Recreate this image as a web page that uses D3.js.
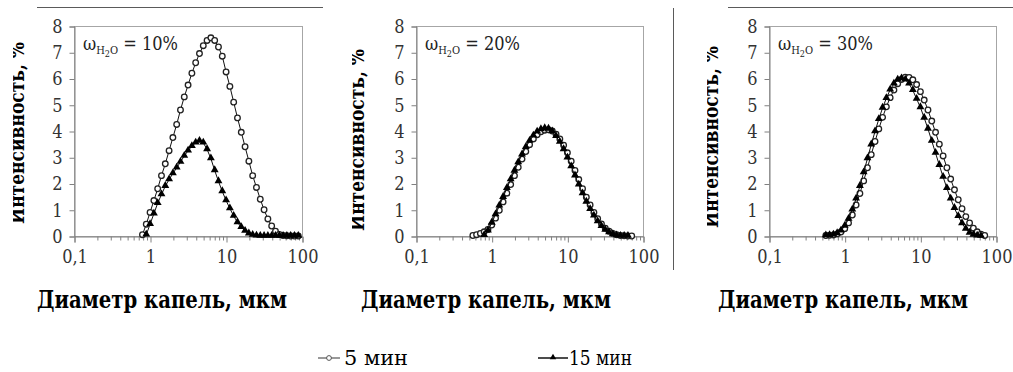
<!DOCTYPE html>
<html>
<head>
<meta charset="utf-8">
<script src="https://cdn.jsdelivr.net/npm/d3@7"></script>
<style>
  html, body { margin: 0; padding: 0; background: #fff; }
  svg { display: block; }
</style>
</head>
<body>
<svg id="chart" width="1013" height="372"></svg>
<script>
// Droplet size classes, µm (shared by every series; null = no point at that class)
const sizeClasses = [0.564, 0.632, 0.710, 0.796, 0.893, 1.002, 1.125, 1.262, 1.416, 1.589,
  1.783, 2.000, 2.244, 2.518, 2.825, 3.170, 3.557, 3.991, 4.477, 5.024,
  5.637, 6.325, 7.096, 7.962, 8.934, 10.024, 11.247, 12.619, 14.159, 15.887,
  17.825, 20.000, 22.440, 25.179, 28.251, 31.698, 35.566, 39.905, 44.774, 50.238,
  56.368, 63.246, 70.963, 79.621, 89.337];

// Intensity, %  — water content 10 %
const w10_5min = [null, null, null, 0.05, 0.45, 0.9, 1.35, 1.8, 2.3, 2.75,
  3.25, 3.75, 4.25, 4.8, 5.3, 5.75, 6.2, 6.6, 6.95, 7.25,
  7.45, 7.55, 7.45, 7.2, 6.85, 6.25, 5.7, 5.1, 4.5, 3.95,
  3.4, 2.85, 2.3, 1.85, 1.4, 1.0, 0.65, 0.38, 0.18, 0.06,
  0.02, 0.01, 0, 0, 0];
const w10_15min = [null, null, null, null, 0.05, 0.45, 0.85, 1.25, 1.58, 1.9,
  2.15, 2.38, 2.6, 2.82, 3.05, 3.25, 3.42, 3.55, 3.62, 3.55,
  3.3, 2.95, 2.5, 2.08, 1.7, 1.35, 1.05, 0.76, 0.52, 0.33,
  0.19, 0.09, 0.04, 0.01, 0, 0, 0, 0, 0, 0,
  0, 0, 0, 0, 0];

// water content 20 %
const w20_5min = [0.02, 0.05, 0.1, 0.16, 0.25, 0.42, 0.68, 0.98, 1.3, 1.63,
  1.96, 2.3, 2.62, 2.93, 3.22, 3.48, 3.7, 3.86, 3.97, 4.03,
  4.05, 4.0, 3.88, 3.7, 3.46, 3.17, 2.85, 2.5, 2.15, 1.8,
  1.48, 1.18, 0.9, 0.66, 0.46, 0.3, 0.18, 0.1, 0.05, 0.02,
  0.01, 0, 0, null, null];
const w20_15min = [null, null, null, 0.03, 0.2, 0.5, 0.82, 1.15, 1.48, 1.82,
  2.15, 2.48, 2.8, 3.1, 3.38, 3.62, 3.82, 3.97, 4.06, 4.1,
  4.08, 3.98, 3.8, 3.58, 3.3, 2.98, 2.65, 2.3, 1.95, 1.62,
  1.3, 1.02, 0.77, 0.55, 0.37, 0.23, 0.13, 0.06, 0.02, 0,
  0, 0, null, null, null];

// water content 30 %
const w30_5min = [0.02, 0.03, 0.04, 0.08, 0.15, 0.28, 0.5, 0.8, 1.18, 1.62,
  2.1, 2.6, 3.1, 3.6, 4.08, 4.52, 4.92, 5.27, 5.56, 5.8,
  5.96, 6.05, 6.04, 5.95, 5.77, 5.5, 5.18, 4.8, 4.38, 3.95,
  3.5, 3.05, 2.6, 2.17, 1.76, 1.38, 1.04, 0.74, 0.5, 0.3,
  0.16, 0.07, 0.02, null, null];
const w30_15min = [0.02, 0.03, 0.05, 0.1, 0.2, 0.38, 0.65, 1.0, 1.42, 1.9,
  2.42, 2.95, 3.48, 3.98, 4.45, 4.88, 5.25, 5.57, 5.8, 5.95,
  6.0, 5.95, 5.8, 5.55, 5.22, 4.9, 4.5, 4.08, 3.62, 3.16,
  2.7, 2.25, 1.82, 1.42, 1.06, 0.75, 0.48, 0.27, 0.12, 0.04,
  0.01, 0, null, null, null];

const waterLabels = ["10%", "20%", "30%"];
const seriesNames = ["5 мин", "15 мин"];
const xMajorTicks = [0.1, 1, 10, 100];
const xTickLabels = ["0,1", "1", "10", "100"];
const yTickValues = [0, 1, 2, 3, 4, 5, 6, 7, 8];
const xTitle = "Диаметр капель, мкм";
const yTitle = "Интенсивность, %";

const panelData = [
  [w10_5min, w10_15min],
  [w20_5min, w20_15min],
  [w30_5min, w30_15min]
];

const SERIF = "'DejaVu Serif Condensed', 'DejaVu Serif', serif";

// Layout of the three small charts
const panels = [
  { left: 74,  right: 302, titleX: 162, yLabelX: 24,  yLabelClip: 13,  yLabelY: 133 },
  { left: 416, right: 643, titleX: 486, yLabelX: 364, yLabelClip: 352, yLabelY: 140 },
  { left: 769, right: 996, titleX: 843, yLabelX: 718, yLabelClip: 707, yLabelY: 137 }
];
const plotTop = 26, plotBottom = 236;

const svg = d3.select("#chart");
const defs = svg.append("defs");

// Separator rules around the panels
svg.append("line").attr("x1", 37).attr("x2", 323).attr("y1", 7.5).attr("y2", 7.5)
  .attr("stroke", "#5a5a5a").attr("stroke-width", 1);
svg.append("line").attr("x1", 728).attr("x2", 1013).attr("y1", 7.5).attr("y2", 7.5)
  .attr("stroke", "#5a5a5a").attr("stroke-width", 1);
svg.append("line").attr("x1", 673.5).attr("x2", 673.5).attr("y1", 8).attr("y2", 270)
  .attr("stroke", "#5a5a5a").attr("stroke-width", 1);

const tri = d3.symbol().type(d3.symbolTriangle).size(27);

panels.forEach((p, i) => {
  const x = d3.scaleLog().domain([0.1, 100]).range([p.left, p.right]);
  const y = d3.scaleLinear().domain([0, 8]).range([plotBottom, plotTop]);
  const g = svg.append("g");

  // plot frame
  g.append("rect")
    .attr("x", p.left + 0.5).attr("y", plotTop + 0.5)
    .attr("width", p.right - p.left).attr("height", plotBottom - plotTop)
    .attr("fill", "none").attr("stroke", "#a6a6a6").attr("stroke-width", 1);

  // minor log ticks
  const minor = x.ticks().filter(v => !xMajorTicks.some(m => Math.abs(m - v) < 1e-9));
  g.append("g")
    .attr("transform", `translate(0.5,${plotBottom + 0.5})`)
    .call(d3.axisBottom(x).tickValues(minor).tickSize(4).tickFormat(""))
    .call(a => a.select(".domain").remove())
    .call(a => a.selectAll("line").attr("stroke", "#808080"));

  // major x axis
  g.append("g")
    .attr("transform", `translate(0.5,${plotBottom + 0.5})`)
    .call(d3.axisBottom(x).tickValues(xMajorTicks).tickSize(6).tickPadding(8)
      .tickFormat((d, k) => xTickLabels[k]))
    .call(a => a.select(".domain").attr("stroke", "#808080"))
    .call(a => a.selectAll("line").attr("stroke", "#808080"))
    .call(a => a.selectAll("text").attr("fill", "#333")
      .style("font-family", SERIF).style("font-size", "18px"));

  // y axis
  g.append("g")
    .attr("transform", `translate(${p.left + 0.5},0.5)`)
    .call(d3.axisLeft(y).tickValues(yTickValues).tickSize(5).tickPadding(7)
      .tickFormat(d3.format("d")))
    .call(a => a.select(".domain").attr("stroke", "#808080"))
    .call(a => a.selectAll("line").attr("stroke", "#808080"))
    .call(a => a.selectAll("text").attr("fill", "#333")
      .style("font-family", SERIF).style("font-size", "18px"));

  // series: 5 min (open circles), 15 min (filled triangles)
  const line = d3.line()
    .x(d => x(d.s)).y(d => y(d.v));

  panelData[i].forEach((vals, k) => {
    const pts = sizeClasses.map((s, j) => ({ s, v: vals[j] })).filter(d => d.v !== null);
    g.append("path").datum(pts)
      .attr("d", line).attr("fill", "none")
      .attr("stroke", "#111").attr("stroke-width", 1);
    if (k === 0) {
      g.selectAll(null).data(pts).join("circle")
        .attr("cx", d => x(d.s)).attr("cy", d => y(d.v)).attr("r", 2.8)
        .attr("fill", "#fff").attr("stroke", "#222").attr("stroke-width", 1.3);
    } else {
      g.selectAll(null).data(pts).join("path")
        .attr("d", tri)
        .attr("transform", d => `translate(${x(d.s)},${y(d.v) - 0.5})`)
        .attr("fill", "#000");
    }
  });

  // ω(H2O) annotation
  const ann = g.append("text")
    .attr("x", p.left + 9).attr("y", 50)
    .style("font-family", SERIF).style("font-size", "18px")
    .attr("fill", "#222");
  ann.append("tspan").text("ω");
  ann.append("tspan").style("font-size", "11px").attr("dy", 4).text("H");
  ann.append("tspan").style("font-size", "9px").attr("dy", 3).text("2");
  ann.append("tspan").style("font-size", "11px").attr("dy", -3).text("O");
  ann.append("tspan").attr("dy", -4).text(" = " + waterLabels[i]);

  // rotated y title, cut off at its left edge
  const clipId = "ylab-clip-" + i;
  defs.append("clipPath").attr("id", clipId)
    .append("rect").attr("x", p.yLabelClip).attr("y", 0)
    .attr("width", p.yLabelX + 8 - p.yLabelClip).attr("height", 300);
  svg.append("g").attr("clip-path", `url(#${clipId})`)
    .append("text")
    .attr("transform", `translate(${p.yLabelX},${p.yLabelY}) rotate(-90)`)
    .attr("text-anchor", "middle")
    .attr("textLength", 182).attr("lengthAdjust", "spacingAndGlyphs")
    .style("font-family", SERIF).style("font-size", "20px").style("font-weight", "bold")
    .attr("fill", "#000")
    .text(yTitle);

  // x title
  svg.append("text")
    .attr("x", p.titleX).attr("y", 308)
    .attr("text-anchor", "middle")
    .attr("textLength", 250).attr("lengthAdjust", "spacingAndGlyphs")
    .style("font-family", SERIF).style("font-size", "25px").style("font-weight", "bold")
    .attr("fill", "#000")
    .text(xTitle);
});

// legend
const legend = svg.append("g");
const legendItems = [
  { x0: 318, x1: 340, tx: 344, tw: 64, name: seriesNames[0], marker: "circle" },
  { x0: 538, x1: 568, tx: 569, tw: 63, name: seriesNames[1], marker: "triangle" }
];
const legendY = 358;
legendItems.forEach(it => {
  legend.append("line").attr("x1", it.x0).attr("x2", it.x1)
    .attr("y1", legendY).attr("y2", legendY)
    .attr("stroke", it.marker === "circle" ? "#777" : "#111").attr("stroke-width", 1.5);
  const cx = (it.x0 + it.x1) / 2;
  if (it.marker === "circle") {
    legend.append("circle").attr("cx", cx).attr("cy", legendY).attr("r", 2.4)
      .attr("fill", "#fff").attr("stroke", "#555").attr("stroke-width", 1);
  } else {
    legend.append("path").attr("d", d3.symbol().type(d3.symbolTriangle).size(18))
      .attr("transform", `translate(${cx},${legendY - 0.5})`).attr("fill", "#000");
  }
  legend.append("text").attr("x", it.tx).attr("y", legendY + 7)
    .attr("textLength", it.tw).attr("lengthAdjust", "spacingAndGlyphs")
    .style("font-family", SERIF).style("font-size", "21px")
    .attr("fill", "#000").text(it.name);
});
</script>
</body>
</html>
